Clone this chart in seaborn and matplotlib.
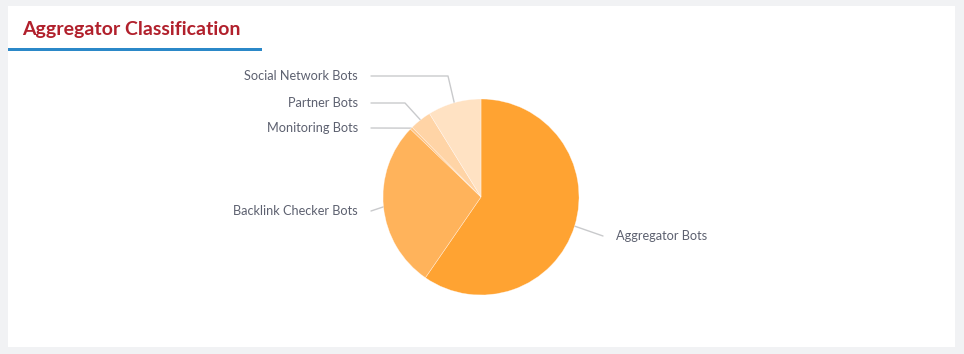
import matplotlib
matplotlib.use("Agg")
import matplotlib.pyplot as plt
import seaborn as sns
import numpy as np
from matplotlib.patches import Rectangle

# ---- data ----
categories = ["Aggregator Bots", "Backlink Checker Bots", "Monitoring Bots",
              "Partner Bots", "Social Network Bots"]
values = [59.6, 27.6, 0.4, 3.6, 8.8]
colors = ["#ffa332", "#ffb35b", "#ffc585", "#ffd4a6", "#ffe2c3"]
title = "Aggregator Classification"

# ---- label layout (pixels) ----
label_x = [616, 358, 358, 358, 358]
label_y = [236, 211, 128, 103, 76]
line_x = [603, 371, 371, 371, 371]
elbow_x = [None, None, None, 405, 448]

sns.set_theme(style="white")
plt.rcParams['font.family'] = ['Lato', 'DejaVu Sans']

W, H = 964, 354
fig = plt.figure(figsize=(W / 100, H / 100), dpi=100)
fig.patch.set_facecolor("#f1f2f4")
fig.add_artist(Rectangle((8 / W, 1 - 347 / H), (955 - 8) / W, (347 - 6) / H,
                         transform=fig.transFigure, facecolor="white",
                         edgecolor="none", zorder=0))
fig.add_artist(Rectangle((8 / W, 1 - 51 / H), (262 - 8) / W, 3 / H,
                         transform=fig.transFigure, facecolor="#2b88c8",
                         edgecolor="none", zorder=1))
fig.text(22 / W, 1 - 30 / H, title, fontsize=14, fontweight="bold",
         color="#b1202c", va="center", ha="left")

cx, cy, R = 481, 197, 98
ax = fig.add_axes([(cx - R) / W, 1 - (cy + R) / H, 2 * R / W, 2 * R / H])
ax.set_xlim(-1, 1)
ax.set_ylim(-1, 1)
ax.axis("off")

wedges, _ = ax.pie(values, colors=colors, startangle=90, counterclock=False,
                   radius=1, wedgeprops=dict(linewidth=0.4,
                                             edgecolor=(1, 1, 1, 0.55)))
ax.set_xlim(-1, 1)
ax.set_ylim(-1, 1)


def px2d(px, py):
    return (px - cx) / R, (cy - py) / R


for i, (w, name) in enumerate(zip(wedges, categories)):
    mid = np.deg2rad((w.theta1 + w.theta2) / 2)
    ex, ey = np.cos(mid), np.sin(mid)
    sx, sy = px2d(line_x[i], label_y[i])
    xs, ys = [sx], [sy]
    if elbow_x[i] is not None:
        bx, by = px2d(elbow_x[i], label_y[i])
        xs.append(bx); ys.append(by)
    xs.append(ex); ys.append(ey)
    ax.plot(xs, ys, color="#c9cacc", lw=1, clip_on=False, zorder=0)
    tx, ty = px2d(label_x[i], label_y[i])
    ax.text(tx, ty, name, fontsize=9.2, color="#5d6170",
            ha="left" if label_x[i] > cx else "right", va="center",
            clip_on=False)

fig.savefig("out.png", dpi=100, facecolor=fig.get_facecolor())
